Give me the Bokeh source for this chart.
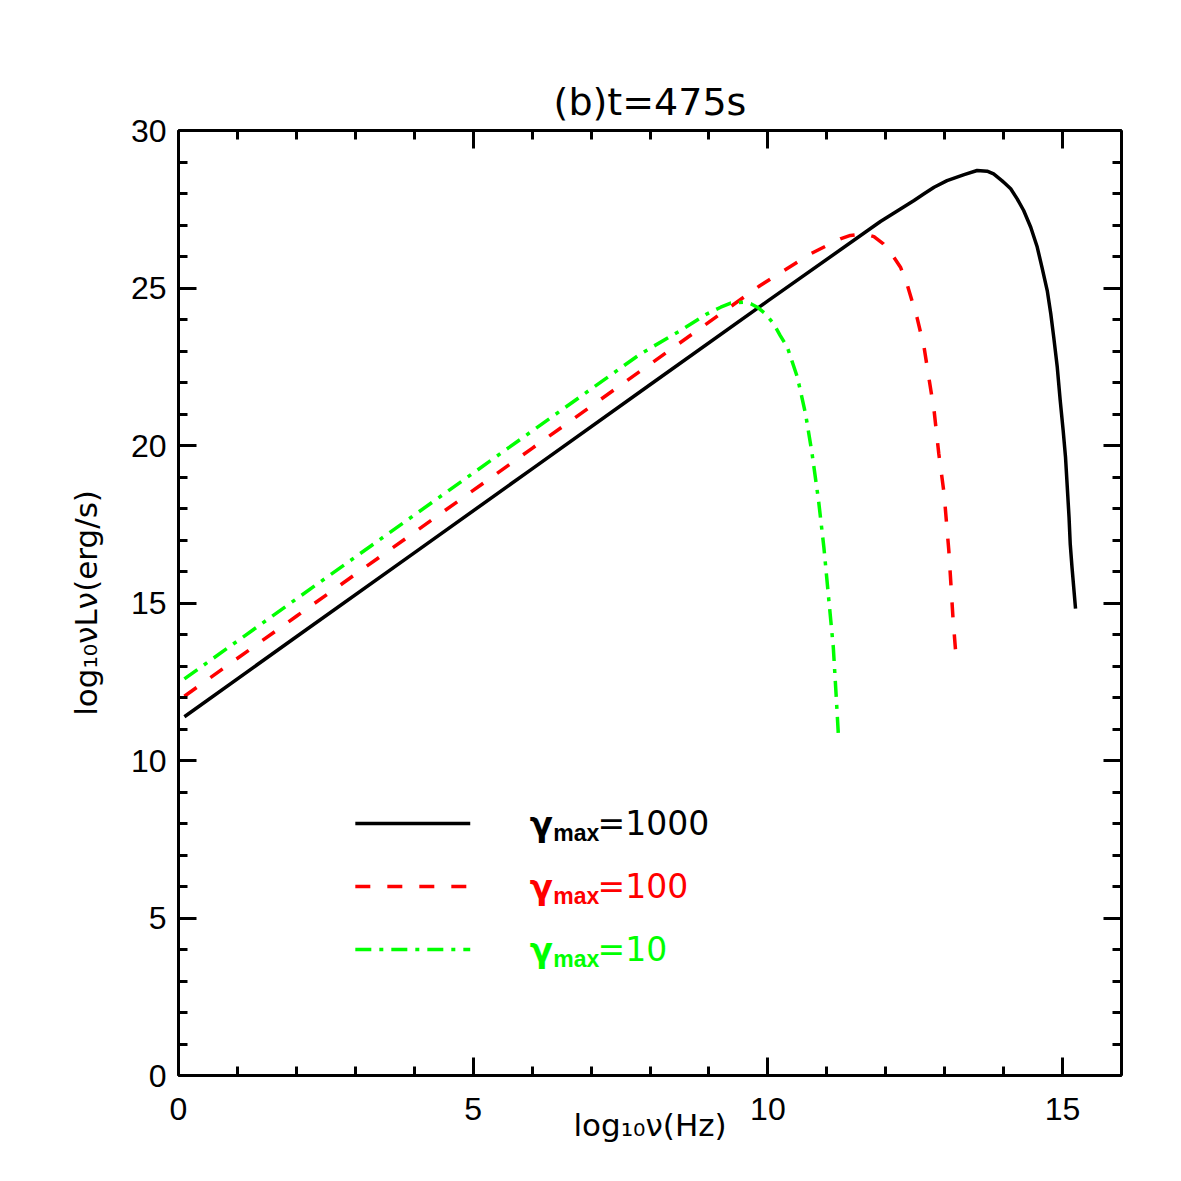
from bokeh.plotting import figure
from bokeh.models import LinearAxis, SingleIntervalTicker, Range1d, CustomJSTickFormatter
from bokeh.embed import file_html
from bokeh.resources import INLINE
from bokeh.core.properties import value

# ---- data ----
# gamma_max = 1000 (black, solid)
nu_g1000 = [0.10, 2.0, 4.0, 6.0, 8.0, 10.0, 11.91, 12.48, 12.65, 12.82, 13.04,
            13.33, 13.55, 13.72, 13.83, 13.97, 14.03, 14.12, 14.23, 14.34, 14.46,
            14.57, 14.65, 14.74, 14.80, 14.85, 14.91, 14.96, 15.01, 15.05, 15.08,
            15.11, 15.13, 15.16, 15.22]
L_g1000 = [11.39, 13.93, 16.59, 19.26, 21.93, 24.59, 27.11, 27.78, 27.99, 28.20,
           28.41, 28.60, 28.73, 28.71, 28.62, 28.41, 28.31, 28.15, 27.83, 27.46,
           26.93, 26.30, 25.66, 24.92, 24.18, 23.44, 22.49, 21.43, 20.48, 19.63,
           18.68, 17.72, 16.88, 16.14, 14.82]
# gamma_max = 100 (red, dashed)
nu_g100 = [0.10, 2.0, 4.0, 6.0, 8.0, 9.87, 10.72, 11.23, 11.40, 11.63, 11.80,
           11.96, 12.10, 12.25, 12.36, 12.53, 12.65, 12.73, 12.82, 12.90, 12.99,
           13.07, 13.14, 13.20]
L_g100 = [12.04, 14.58, 17.24, 19.91, 22.58, 25.08, 26.08, 26.56, 26.67, 26.72,
          26.63, 26.40, 26.08, 25.66, 25.13, 24.07, 23.12, 22.17, 21.11, 19.74,
          18.47, 16.67, 14.55, 13.12]
# gamma_max = 10 (green, dash-dot)
nu_g10 = [0.10, 2.0, 4.0, 6.0, 7.84, 8.52, 8.97, 9.20, 9.37, 9.59, 9.71, 9.82,
          9.96, 10.10, 10.21, 10.33, 10.50, 10.64, 10.75, 10.86, 10.95, 11.03,
          11.11, 11.16, 11.20]
L_g10 = [12.59, 15.13, 17.79, 20.46, 22.91, 23.65, 24.18, 24.39, 24.52, 24.55,
         24.50, 24.39, 24.18, 23.86, 23.49, 23.12, 22.17, 21.00, 19.74, 18.25,
         16.77, 15.18, 13.60, 12.01, 10.69]

series_values = ["=1000", "=100", "=10"]
series_colors = ["#000000", "#ff0000", "#00ff00"]
series_dash = ["solid", "15 17", "16 8 4 8"]

title_text = "(b)t=475s"
x_label = "log\u2081\u2080\u03bd(Hz)"
y_label = "log\u2081\u2080\u03bdL\u03bd(erg/s)"

FONT = "Liberation Sans"
WIDE = "DejaVu Sans"

# ---- figure ----
p = figure(width=1170, height=1170, x_range=Range1d(0, 16), y_range=Range1d(0, 30),
           output_backend="svg", toolbar_location=None,
           min_border_left=178, min_border_right=49, min_border_top=130,
           min_border_bottom=95, title=title_text)
p.grid.visible = False
p.outline_line_color = None
p.background_fill_color = "white"
p.border_fill_color = "white"

p.title.align = "center"
p.title.text_font = WIDE
p.title.text_font_size = "38px"
p.title.text_font_style = "normal"
p.title.text_color = "black"
p.title.standoff = 14


def style_axis(ax, labels=True):
    ax.ticker = SingleIntervalTicker(interval=5, num_minor_ticks=5)
    ax.axis_line_width = 3
    ax.axis_line_color = "black"
    ax.major_tick_in = 18
    ax.major_tick_out = 0
    ax.minor_tick_in = 9
    ax.minor_tick_out = 0
    ax.major_tick_line_width = 3
    ax.minor_tick_line_width = 3
    ax.major_tick_line_color = "black"
    ax.minor_tick_line_color = "black"
    if labels:
        ax.major_label_text_font = FONT
        ax.major_label_text_font_size = "32px"
        ax.major_label_text_color = "black"
        ax.axis_label_text_font = WIDE
        ax.axis_label_text_font_size = "31px"
        ax.axis_label_text_font_style = "normal"
        ax.axis_label_text_color = "black"
    else:
        ax.formatter = CustomJSTickFormatter(code="return ''")
        ax.major_label_standoff = 0


xb = p.xaxis[0]
yl = p.yaxis[0]
style_axis(xb)
style_axis(yl)
xb.axis_label = x_label
yl.axis_label = y_label
xb.major_label_standoff = 22
xb.axis_label_standoff = -16
yl.major_label_standoff = 12
yl.axis_label_standoff = 24

xt = LinearAxis()
yr = LinearAxis()
style_axis(xt, labels=False)
style_axis(yr, labels=False)
p.add_layout(xt, "above")
p.add_layout(yr, "right")

# ---- curves ----
curves = [(nu_g1000, L_g1000), (nu_g100, L_g100), (nu_g10, L_g10)]
for (xs, ys), c, d in zip(curves, series_colors, series_dash):
    p.line(xs, ys, line_color=c, line_width=3.5, line_dash=d, line_join="round")

# ---- legend (drawn in data space like the original) ----
leg_x0, leg_x1 = 3.0, 4.95
leg_rows = [8.0, 6.0, 4.0]
for yy, c, d in zip(leg_rows, series_colors, series_dash):
    p.line([leg_x0, leg_x1], [yy, yy], line_color=c, line_width=3.5, line_dash=d)

p.text(x=[5.96] * 3, y=leg_rows, text=["\u03b3"] * 3, text_color=series_colors,
       text_font=value(WIDE), text_font_size="34px", text_font_style="bold",
       text_baseline="alphabetic", text_align="left")
p.text(x=[6.36] * 3, y=[r - 0.29 for r in leg_rows], text=["max"] * 3,
       text_color=series_colors, text_font=value(FONT), text_font_size="23px",
       text_font_style="bold", text_baseline="alphabetic", text_align="left")
p.text(x=[7.11] * 3, y=leg_rows, text=series_values, text_color=series_colors,
       text_font=value(WIDE), text_font_size="33px", text_font_style="normal",
       text_baseline="alphabetic", text_align="left")

open("out.html", "w").write(file_html(p, INLINE))
